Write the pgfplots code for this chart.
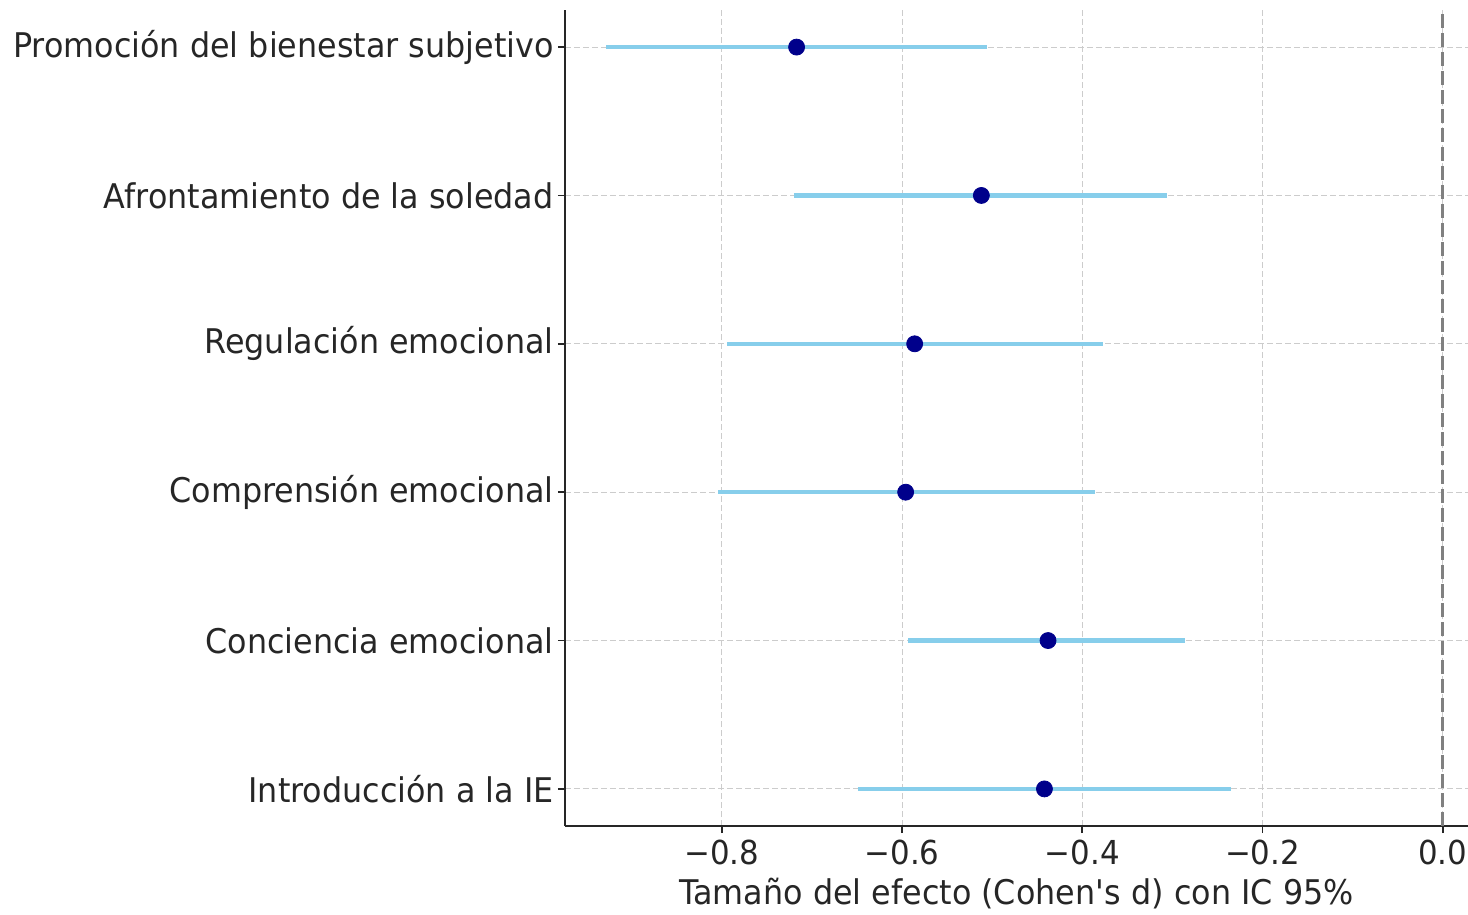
\documentclass[border=0pt]{standalone}
\usepackage{pgfplots}
\pgfplotsset{compat=1.18}
\usepackage{fontspec}
\setmainfont{DejaVu Sans}[FakeStretch=0.935]
\definecolor{skyblue}{HTML}{87CEEB}
\definecolor{dblue}{HTML}{00008B}
\definecolor{spine}{HTML}{262626}
\definecolor{gridc}{HTML}{CCCCCC}
\begin{document}
\begin{tikzpicture}
\begin{axis}[
  scale only axis,
  width=451.5pt, height=408pt,
  xmin=-0.974, xmax=0.028,
  ymin=-0.25, ymax=5.25,
  axis x line*=bottom, axis y line*=left,
  axis line style={spine, line width=1.2pt},
  xtick={-0.8,-0.6,-0.4,-0.2,0.0},
  xticklabels={−0.8,−0.6,−0.4,−0.2,0.0},
  ytick={0,1,2,3,4,5},
  yticklabels={Introducción a la IE,Conciencia emocional,Comprensión emocional,Regulación emocional,Afrontamiento de la soledad,Promoción del bienestar subjetivo},
  tick align=outside,
  major tick length=3.5pt,
  tick style={spine, line width=0.8pt},
  yticklabel style={font=\fontsize{17}{19}\selectfont, text=spine, inner xsep=2pt},
  xticklabel style={font=\fontsize{16.5}{18}\selectfont, text=spine},
  xlabel={Tamaño del efecto (Cohen\textquotesingle s d) con IC 95\%},
  xlabel style={font=\fontsize{17}{19}\selectfont, text=spine, yshift=0.5pt},
  grid=major,
  grid style={gridc, line width=0.5pt, dash pattern=on 3pt off 1.5pt},
  clip=false,
]
\addplot[gray, line width=1.5pt, dash pattern=on 7pt off 2.5pt] coordinates {(0,-0.25) (0,5.25)};
\addplot[skyblue, line width=2.2pt] coordinates {(-0.928,5) (-0.506,5)};
\addplot[skyblue, line width=2.2pt] coordinates {(-0.720,4) (-0.306,4)};
\addplot[skyblue, line width=2.2pt] coordinates {(-0.794,3) (-0.377,3)};
\addplot[skyblue, line width=2.2pt] coordinates {(-0.804,2) (-0.386,2)};
\addplot[skyblue, line width=2.2pt] coordinates {(-0.593,1) (-0.286,1)};
\addplot[skyblue, line width=2.2pt] coordinates {(-0.649,0) (-0.235,0)};
\addplot[only marks, mark=*, mark size=4pt, dblue, mark options={fill=dblue, draw=dblue}] coordinates {
(-0.717,5) (-0.512,4) (-0.586,3) (-0.596,2) (-0.438,1) (-0.442,0)};
\end{axis}
\pgfresetboundingbox
\useasboundingbox ([xshift=-282.5pt, yshift=-44pt]current axis.south west) rectangle ([yshift=5pt]current axis.north east);
\end{tikzpicture}
\end{document}
